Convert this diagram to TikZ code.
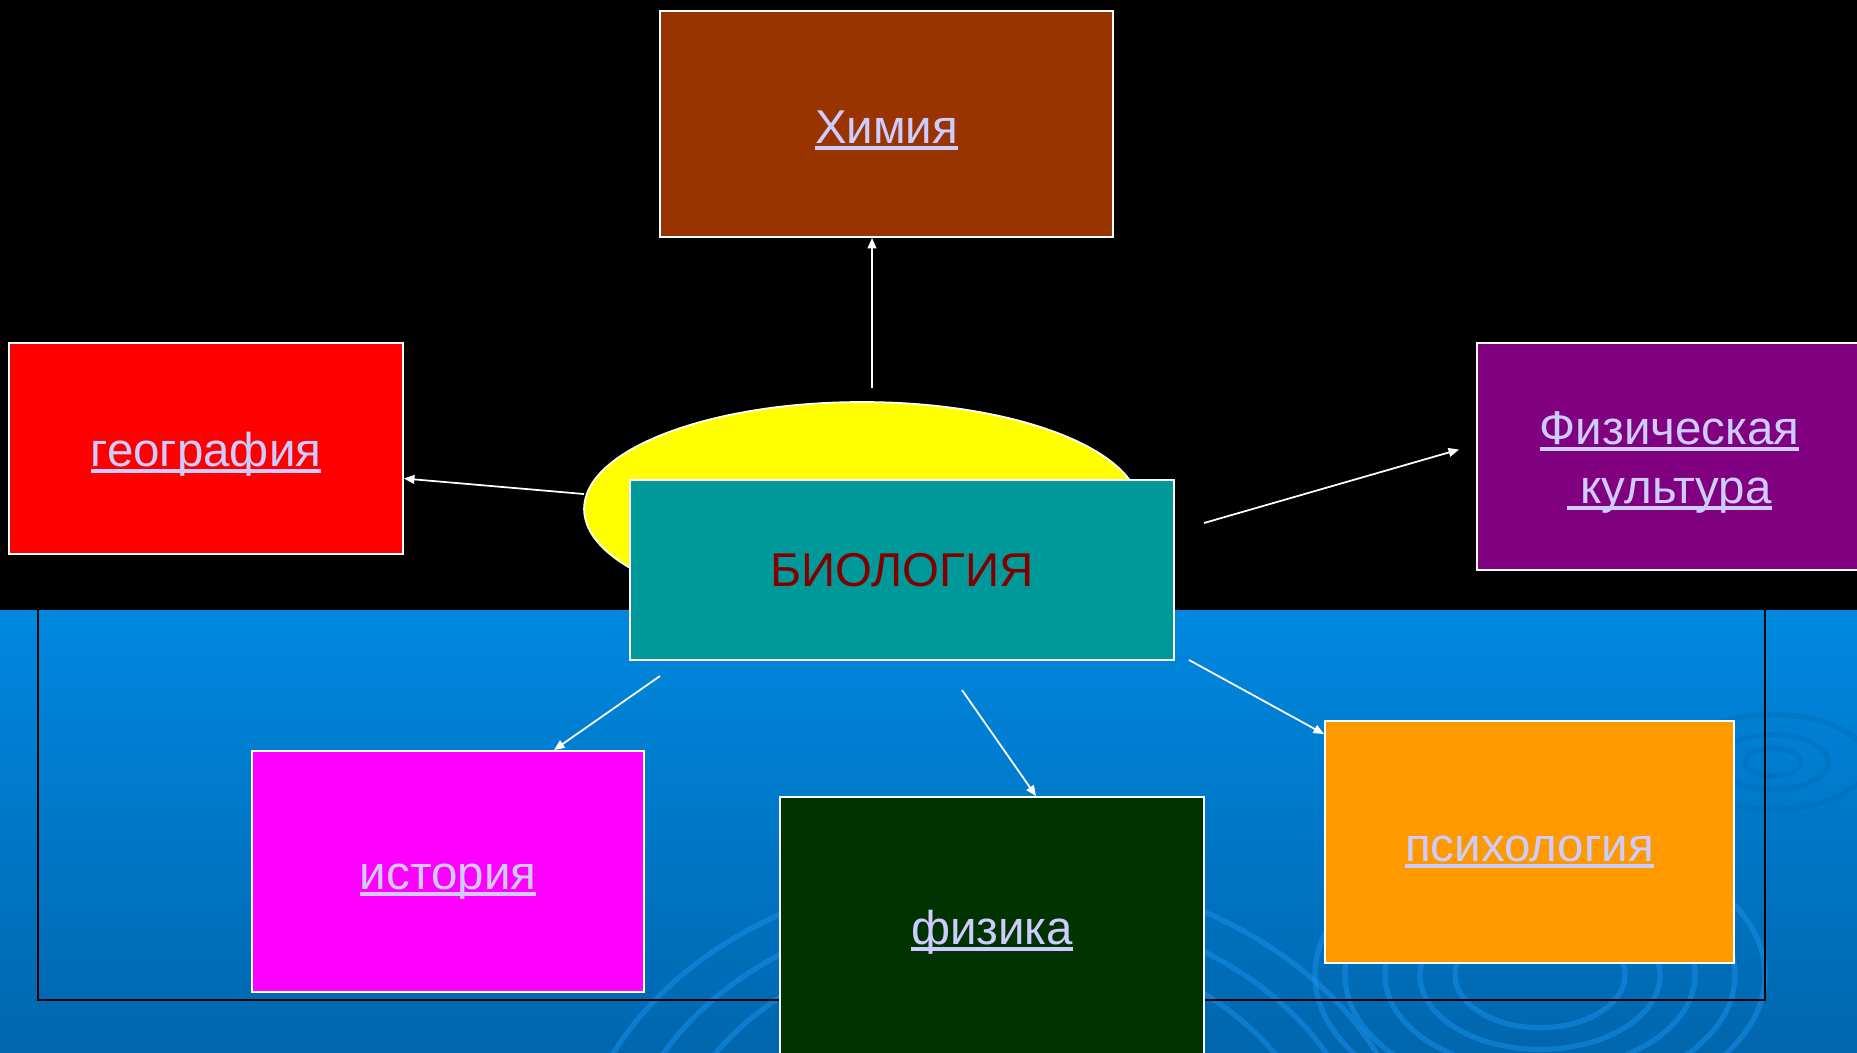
\documentclass[tikz,border=0pt]{standalone}
\usepackage{fontspec}
\setmainfont{Liberation Sans}
\usetikzlibrary{shapes.geometric,arrows.meta,calc}

\definecolor{linkcol}{HTML}{CCCCFF}
\definecolor{chemcol}{HTML}{993300}
\definecolor{geogcol}{HTML}{FF0000}
\definecolor{sportcol}{HTML}{800080}
\definecolor{suncol}{HTML}{FFFF00}
\definecolor{biocol}{HTML}{009999}
\definecolor{biotext}{HTML}{800000}
\definecolor{histcol}{HTML}{FF00FF}
\definecolor{fizcol}{HTML}{003300}
\definecolor{psychcol}{HTML}{FF9900}
\definecolor{seatop}{HTML}{0088E0}
\definecolor{seabot}{HTML}{0066AE}
\definecolor{ripplecol}{HTML}{1C96F2}

% underlined hyperlink-like text
\newcommand\lnk[1]{\setbox0=\hbox{#1}\rule{0pt}{26pt}\rlap{\rule[-3.7pt]{\wd0}{2.5pt}}\box0}

\tikzset{
  subject/.style={draw=white, line width=1.1pt, inner sep=0pt, align=center,
    text=linkcol, font=\fontsize{27}{33.5}\selectfont},
  link/.style={draw=white, line width=1pt, -{Triangle[length=6pt,width=5pt]}},
  ripple/.style={draw=ripplecol, line width=3pt, opacity=0.45}
}

\begin{document}
\begin{tikzpicture}[x=0.02cm,y=-0.02cm]
 \useasboundingbox (0,0) rectangle (1857,1052);
 % background
 \shade[top color=seatop,bottom color=seabot] (0,610) rectangle (1857,1052);
 \begin{scope}
  \clip (0,610) rectangle (1857,1052);
  \foreach \r in {85,120,155,195,225} \draw[ripple] (1540,975) ellipse ({\r} and {0.62*\r});
  \foreach \r in {330,375,420} \draw[ripple] (995,1185) ellipse ({\r} and {0.75*\r});
  \foreach \r in {28,55,95} \draw[ripple,draw=seabot!80!seatop] (1773,762) ellipse ({\r} and {0.5*\r});
 \end{scope}
 \draw[black,line width=1.2pt] (38,590) rectangle (1765,1000);
 \fill[black] (0,0) rectangle (1857,610);

 % central subject
 \node[ellipse,draw=white,line width=1pt,fill=suncol,minimum width=11.12cm,minimum height=4.28cm] (sun) at (862,509) {};
 \node[subject,fill=biocol,text=biotext,minimum width=10.88cm,minimum height=3.6cm] (bio) at (902,570) {БИОЛОГИЯ};

 % related subjects
 \node[subject,fill=chemcol,minimum width=9.06cm,minimum height=4.52cm] (chem) at (886.5,124) {\lnk{Химия}};
 \node[subject,fill=geogcol,minimum width=7.88cm,minimum height=4.22cm] (geog) at (206,448.5) {\lnk{география}};
 \node[subject,fill=sportcol,minimum width=7.7cm,minimum height=4.54cm] (sport) at (1669.5,456.5) {\lnk{Физическая}\\\lnk{\ культура}};
 \node[subject,fill=histcol,minimum width=7.84cm,minimum height=4.82cm] (hist) at (448,871.5) {\lnk{история}};
 \node[subject,fill=fizcol,minimum width=8.48cm,minimum height=5.18cm] (fiz) at (992,926.5) {\lnk{физика}};
 \node[subject,fill=psychcol,minimum width=8.18cm,minimum height=4.84cm] (psych) at (1529.5,842) {\lnk{психология}};

 % arrows
 \coordinate (up0) at (872,388);
 \coordinate (lf0) at (584,494);
 \coordinate (rt0) at (1204,523);
 \coordinate (dl0) at (660,676);
 \coordinate (dn0) at (962,690);
 \coordinate (dr0) at (1189,660);
 \draw[link] (up0) -- (up0 |- chem.south);
 \draw[link] (lf0) -- ($(geog.east)+(0,30)$);
 \draw[link] (rt0) -- ($(sport.west)+(-17,-7)$);
 \draw[link] (dl0) -- ($(hist.north)+(106,0)$);
 \draw[link] (dn0) -- ($(fiz.north)+(44,0)$);
 \draw[link] (dr0) -- ($(psych.north west)+(0,14)$);
\end{tikzpicture}
\end{document}
